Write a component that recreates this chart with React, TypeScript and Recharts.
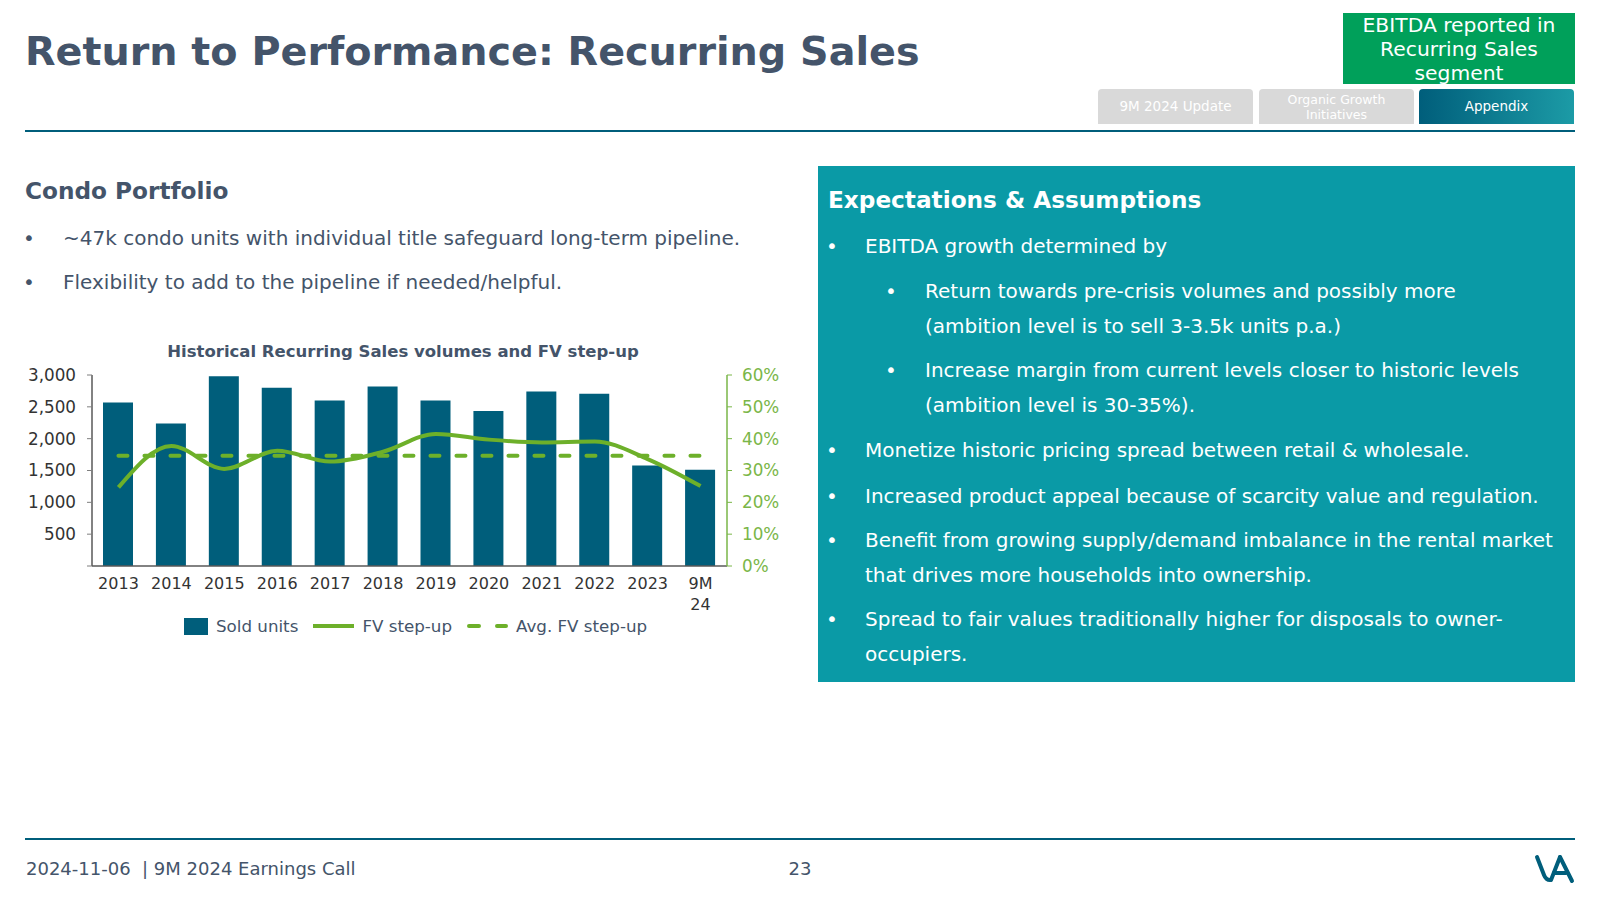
import React from "react";
import { Bar, ComposedChart, Line, XAxis, YAxis } from "recharts";

const years = ["2013", "2014", "2015", "2016", "2017", "2018", "2019", "2020", "2021", "2022", "2023", "9M 24"];
const soldUnits = [2570, 2240, 2980, 2800, 2600, 2820, 2600, 2435, 2740, 2705, 1580, 1510];
const fvStepUp = [24.7, 37.7, 30.5, 36.2, 32.8, 35.9, 41.5, 39.7, 38.8, 39.1, 33.6, 25.1];
const avgFvStepUp = 34.6;
const unitTicks = [0, 500, 1000, 1500, 2000, 2500, 3000];
const pctTicks = [0, 10, 20, 30, 40, 50, 60];

const data = years.map((year, i) => ({
  year,
  sold: soldUnits[i],
  fv: fvStepUp[i],
  avg: avgFvStepUp,
}));

const FONT = "'DejaVu Sans', Verdana, sans-serif";
const SLATE = "#44546A";
const NAVY = "#005E7B";
const GREEN = "#6DB02A";
const GREEN_AXIS = "#7AB648";
const TEAL = "#0A9AA6";

function YearTick(props: any) {
  const { x, y, payload } = props;
  const parts = String(payload.value).split(" ");
  return (
    <text x={x} y={y} textAnchor="middle" fill="#333" fontSize={16} fontFamily={FONT}>
      {parts.map((p, i) => (
        <tspan key={i} x={x} dy={i === 0 ? 23 : 21}>
          {p}
        </tspan>
      ))}
    </text>
  );
}

function SalesChart() {
  return (
    <ComposedChart
      width={800}
      height={310}
      data={data}
      margin={{ top: 45, right: 0, bottom: 34, left: 0 }}
      barSize={30}
      style={{ fontFamily: FONT }}
    >
      <XAxis
        dataKey="year"
        axisLine={{ stroke: "#595959", strokeWidth: 1.5 }}
        tickLine={false}
        tickSize={0}
        tickMargin={0}
        height={40}
        interval={0}
        tick={<YearTick />}
      />
      <YAxis
        yAxisId="units"
        domain={[0, 3000]}
        ticks={unitTicks}
        width={92}
        axisLine={{ stroke: "#595959", strokeWidth: 1.5 }}
        tickLine={{ stroke: "#7f7f7f" }}
        tickSize={5}
        tickMargin={11}
        tick={{ fill: "#333", fontSize: 16.8, fontFamily: FONT }}
        tickFormatter={(v: number) => (v === 0 ? "" : v.toLocaleString("en-US"))}
      />
      <YAxis
        yAxisId="pct"
        orientation="right"
        domain={[0, 60]}
        ticks={pctTicks}
        width={73}
        axisLine={{ stroke: GREEN_AXIS, strokeWidth: 1.5 }}
        tickLine={{ stroke: GREEN_AXIS }}
        tickSize={5}
        tickMargin={10}
        tick={{ fill: GREEN_AXIS, fontSize: 16.8, fontFamily: FONT }}
        tickFormatter={(v: number) => `${v}%`}
      />
      <Bar yAxisId="units" dataKey="sold" fill={NAVY} isAnimationActive={false} />
      <Line
        yAxisId="pct"
        dataKey="avg"
        type="linear"
        stroke={GREEN}
        strokeWidth={4}
        strokeDasharray="9 17"
        strokeLinecap="round"
        dot={false}
        isAnimationActive={false}
      />
      <Line
        yAxisId="pct"
        dataKey="fv"
        type="monotone"
        stroke={GREEN}
        strokeWidth={4}
        dot={false}
        isAnimationActive={false}
      />
    </ComposedChart>
  );
}

function ChartLegend() {
  const text = { fontSize: 16.7, color: SLATE, marginLeft: 8, marginRight: 15 };
  return (
    <div style={{ position: "absolute", left: 184, top: 616, display: "flex", alignItems: "center", whiteSpace: "nowrap" }}>
      <span style={{ width: 24, height: 17, background: NAVY, display: "inline-block" }} />
      <span style={text}>Sold units</span>
      <svg width={41} height={10}>
        <line x1={0} y1={5} x2={41} y2={5} stroke={GREEN} strokeWidth={4} />
      </svg>
      <span style={text}>FV step-up</span>
      <svg width={41} height={10}>
        <line x1={2} y1={5} x2={39} y2={5} stroke={GREEN} strokeWidth={4} strokeDasharray="10 18" strokeLinecap="round" />
      </svg>
      <span style={text}>Avg. FV step-up</span>
    </div>
  );
}

function Line1({ top, left, size, children, bold, color, lh }: any) {
  return (
    <div
      style={{
        position: "absolute",
        top,
        left,
        fontSize: size,
        fontWeight: bold ? "bold" : "normal",
        color: color || SLATE,
        lineHeight: `${lh || size * 1.3}px`,
        whiteSpace: "nowrap",
      }}
    >
      {children}
    </div>
  );
}

function BoxBullet({ center, level, lines }: { center: number; level: number; lines: string[] }) {
  const bx = level === 1 ? 826 : 885;
  const tx = level === 1 ? 865 : 925;
  return (
    <>
      <div style={{ position: "absolute", left: bx, top: center - 17.25, lineHeight: "35.5px", fontSize: 20, color: "#fff" }}>•</div>
      <div style={{ position: "absolute", left: tx, top: center - 17.25, lineHeight: "35.5px", fontSize: 20, color: "#fff", whiteSpace: "nowrap" }}>
        {lines.map((l, i) => (
          <div key={i}>{l}</div>
        ))}
      </div>
    </>
  );
}

function Logo() {
  return (
    <svg width={44} height={32} style={{ position: "absolute", left: 1533, top: 853 }}>
      <g fill="none" stroke={NAVY} strokeWidth={4} strokeLinecap="round">
        <path d="M4 4 L11 22 Q13 27 17 27" />
        <path d="M27 4 L18 27" />
        <path d="M27 4 L39 28" />
        <path d="M21 20 L33 20" />
      </g>
    </svg>
  );
}

export default function App() {
  return (
    <div
      style={{
        position: "absolute",
        left: 0,
        top: 0,
        width: 1600,
        height: 900,
        background: "#fff",
        overflow: "hidden",
        fontFamily: FONT,
      }}
    >
      <Line1 top={25} left={25} size={39.7} bold lh={52}>
        Return to Performance: Recurring Sales
      </Line1>

      <div
        style={{
          position: "absolute",
          left: 1343,
          top: 13,
          width: 232,
          height: 71,
          background: "#00A05A",
        }}
      />
      <div
        style={{
          position: "absolute",
          left: 1343,
          top: 12.5,
          width: 232,
          textAlign: "center",
          color: "#fff",
          fontSize: 20.3,
          lineHeight: "24px",
        }}
      >
        EBITDA reported in
        <br />
        Recurring Sales
        <br />
        segment
      </div>

      {[
        { left: 1098, label: ["9M 2024 Update"], bg: "#D9D9D9" },
        { left: 1259, label: ["Organic Growth", "Initiatives"], bg: "#D9D9D9" },
        { left: 1419, label: ["Appendix"], bg: "linear-gradient(90deg, #005E7B 0%, #1C9BA6 100%)" },
      ].map((t) => (
        <div
          key={t.left}
          style={{
            position: "absolute",
            left: t.left,
            top: 89,
            width: 155,
            height: 35,
            background: t.bg,
            borderRadius: "4px 4px 0 0",
            color: "#fff",
            fontSize: t.label.length > 1 ? 12.5 : 13.5,
            lineHeight: t.label.length > 1 ? "15px" : "37px",
            textAlign: "center",
            display: "flex",
            flexDirection: "column",
            justifyContent: "center",
          }}
        >
          {t.label.map((l) => (
            <div key={l}>{l}</div>
          ))}
        </div>
      ))}

      <div style={{ position: "absolute", left: 25, top: 130, width: 1550, height: 2, background: NAVY }} />

      <Line1 top={176} left={25} size={23.2} bold lh={30}>
        Condo Portfolio
      </Line1>
      <Line1 top={224} left={23} size={20} lh={28}>•</Line1>
      <Line1 top={224} left={63} size={20} lh={28}>
        ~47k condo units with individual title safeguard long-term pipeline.
      </Line1>
      <Line1 top={268} left={23} size={20} lh={28}>•</Line1>
      <Line1 top={268} left={63} size={20} lh={28}>
        Flexibility to add to the pipeline if needed/helpful.
      </Line1>

      <div
        style={{
          position: "absolute",
          left: 0,
          width: 806,
          top: 341,
          textAlign: "center",
          fontSize: 16.5,
          fontWeight: "bold",
          color: SLATE,
          lineHeight: "22px",
        }}
      >
        Historical Recurring Sales volumes and FV step-up
      </div>

      <div style={{ position: "absolute", left: 0, top: 330 }}>
        <SalesChart />
      </div>
      <ChartLegend />

      <div style={{ position: "absolute", left: 818, top: 166, width: 757, height: 516, background: TEAL }} />
      <Line1 top={185} left={828} size={23.2} bold color="#fff" lh={30}>
        Expectations &amp; Assumptions
      </Line1>
      <BoxBullet center={246} level={1} lines={["EBITDA growth determined by"]} />
      <BoxBullet
        center={291}
        level={2}
        lines={["Return towards pre-crisis volumes and possibly more", "(ambition level is to sell 3-3.5k units p.a.)"]}
      />
      <BoxBullet
        center={370}
        level={2}
        lines={["Increase margin from current levels closer to historic levels", "(ambition level is 30-35%)."]}
      />
      <BoxBullet center={450} level={1} lines={["Monetize historic pricing spread between retail & wholesale."]} />
      <BoxBullet center={496} level={1} lines={["Increased product appeal because of scarcity value and regulation."]} />
      <BoxBullet
        center={540}
        level={1}
        lines={["Benefit from growing supply/demand imbalance in the rental market", "that drives more households into ownership."]}
      />
      <BoxBullet
        center={619}
        level={1}
        lines={["Spread to fair values traditionally higher for disposals to owner-", "occupiers."]}
      />

      <div style={{ position: "absolute", left: 25, top: 838, width: 1550, height: 2, background: NAVY }} />
      <Line1 top={856} left={26} size={18} lh={26}>
        2024-11-06&nbsp;&nbsp;| 9M 2024 Earnings Call
      </Line1>
      <div style={{ position: "absolute", left: 760, width: 80, top: 856, textAlign: "center", fontSize: 18, lineHeight: "26px", color: SLATE }}>
        23
      </div>
      <Logo />
    </div>
  );
}
